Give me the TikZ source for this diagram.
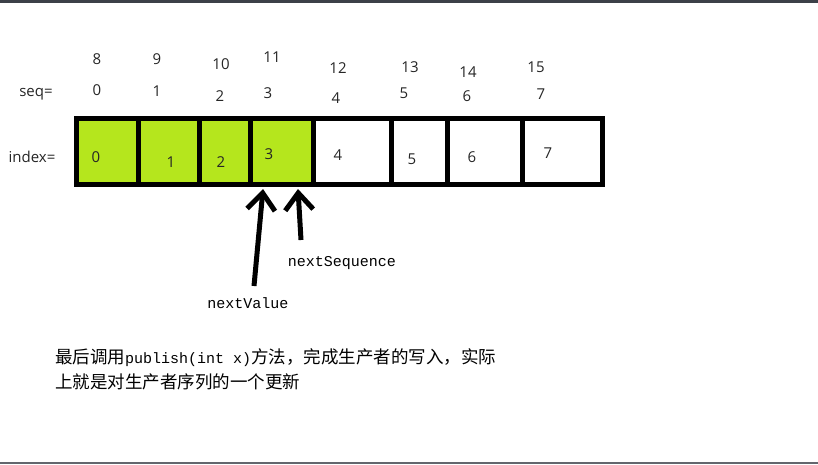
\documentclass[tikz,border=0pt]{standalone}
\usepackage{fontspec}
\setmainfont{Open Sans}
\newfontfamily\cjk{Noto Sans CJK SC}
\newfontfamily\mono{Liberation Mono}
\usetikzlibrary{arrows.meta}
\definecolor{lime}{RGB}{181,230,29}
\definecolor{barc}{RGB}{60,64,72}
\tikzset{
  cellbox/.style={draw=black, line width=5pt, minimum height=66pt, anchor=north west, inner sep=0pt, outer sep=0pt},
  full/.style={cellbox, fill=lime},
  empty/.style={cellbox, fill=white},
  num/.style={font=\fontsize{15pt}{18pt}\selectfont, text=black!85, inner sep=0pt},
  lbl/.style={font=\mono\fontsize{15pt}{18pt}\selectfont, inner sep=0pt},
  ptr/.style={line width=5pt, -{Straight Barb[length=17pt,width=28pt,line width=5pt]}}
}
\begin{document}
\begin{tikzpicture}[x=1pt,y=-1pt]
\useasboundingbox (0,0) rectangle (818,464);
\fill[white] (0,0) rectangle (818,464);
\fill[barc] (0,0) rectangle (818,2.5);
\fill[barc!80] (0,462) rectangle (818,464);
% cells
\node[full, minimum width=62pt] (c0) at (76.5,118) {};
\node[full, minimum width=61pt] (c1) at (138.5,118) {};
\node[full, minimum width=50.5pt] (c2) at (199.5,118) {};
\node[full, minimum width=63pt] (c3) at (250,118) {};
\node[empty, minimum width=78pt] (c4) at (313,118) {};
\node[empty, minimum width=56pt] (c5) at (391,118) {};
\node[empty, minimum width=75pt] (c6) at (447,118) {};
\node[empty, minimum width=80.5pt] (c7) at (522,118) {};
% row labels
\node[num] (seq) at (36,94) {seq=};
\node[num] (idx) at (32,157) {index=};
% top numbers
\node[num] (t8) at (97,59) {8};
\node[num] (t9) at (157,59) {9};
\node[num] (t10) at (221,64) {10};
\node[num] (t11) at (272,57) {11};
\node[num] (t12) at (338,68) {12};
\node[num] (t13) at (410,67) {13};
\node[num] (t14) at (468,72) {14};
\node[num] (t15) at (536,67) {15};
% seq numbers
\node[num] (s0) at (97,90) {0};
\node[num] (s1) at (157,91) {1};
\node[num] (s2) at (220,96) {2};
\node[num] (s3) at (268,93) {3};
\node[num] (s4) at (336,98) {4};
\node[num] (s5) at (404,93) {5};
\node[num] (s6) at (467,96) {6};
\node[num] (s7) at (541,94) {7};
% index numbers
\node[num] (i0) at (96,157) {0};
\node[num] (i1) at (171,162) {1};
\node[num] (i2) at (221,162) {2};
\node[num] (i3) at (269,154) {3};
\node[num] (i4) at (338,155) {4};
\node[num] (i5) at (412,159) {5};
\node[num] (i6) at (472,157) {6};
\node[num] (i7) at (548,153) {7};
% pointers
\node[lbl] (nseq) at (342,263) {nextSequence};
\node[lbl] (nval) at (248,303) {nextValue};
\coordinate (vt) at (254,286);
\coordinate (vh) at (263,189);
\coordinate (st) at (301,240);
\coordinate (sh) at (298,189);
\draw[ptr] (vt) -- (vh);
\draw[ptr] (st) -- (sh);
% note
\node[anchor=base west, inner sep=0pt, font=\cjk\fontsize{17.5pt}{25pt}\selectfont] (note1) at (55,363)
  {最后调用{\mono\fontsize{15pt}{18pt}\selectfont publish(int x)}方法，完成生产者的写入，实际};
\node[anchor=base west, inner sep=0pt, font=\cjk\fontsize{17.5pt}{25pt}\selectfont] (note2) at (55,388)
  {上就是对生产者序列的一个更新};
\end{tikzpicture}
\end{document}
